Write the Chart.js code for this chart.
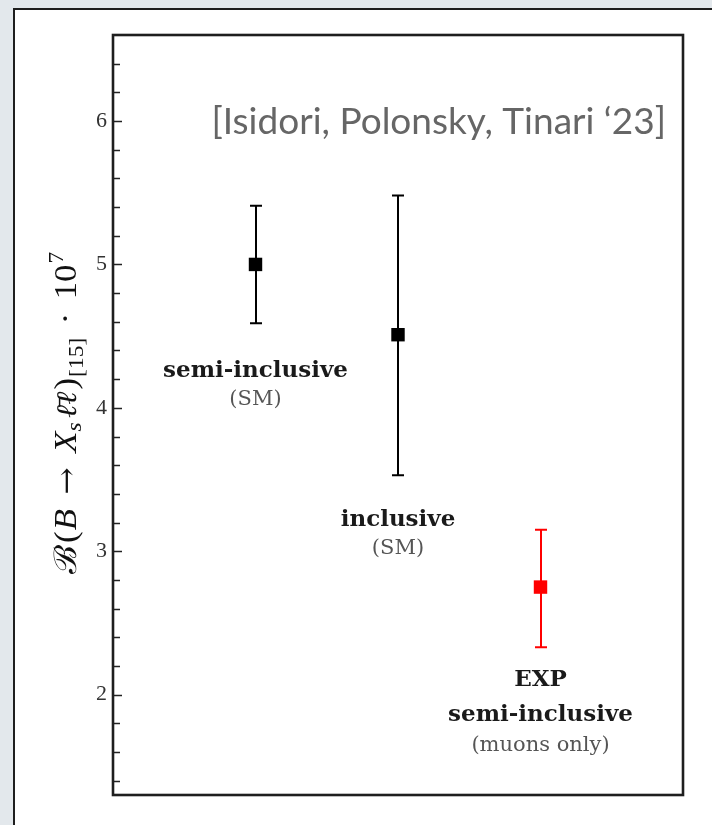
<!DOCTYPE html>
<html>
<head>
<meta charset="utf-8">
<script src="https://cdn.jsdelivr.net/npm/chart.js@4.4.0/dist/chart.umd.min.js"></script>
<style>
html, body { margin: 0; padding: 0; background: #e3e8ec; width: 712px; height: 825px; overflow: hidden; }
#panel { position: absolute; left: 13px; top: 8px; width: 720px; height: 840px; background: #fff; border: 2px solid #1e1e1e; }
#wrap { position: absolute; left: 0; top: 0; width: 712px; height: 825px; }
</style>
</head>
<body>
<div id="panel"></div>
<div id="wrap"><canvas id="mycanvas" width="712" height="825"></canvas></div>
<script>
// values
var categories = ["semi-inclusive (SM)", "inclusive (SM)", "EXP semi-inclusive (muons only)"];
var xPos = [1, 2, 3];
var central = [5.00, 4.51, 2.75];
var upper = [5.41, 5.48, 3.15];
var lower = [4.59, 3.53, 2.33];
var colors = ["#000000", "#000000", "#ff0000"];
var yTickLabels = [2, 3, 4, 5, 6];
var citation = "[Isidori, Polonsky, Tinari \u201823]";
var labelLines = [
	[{text: "semi-inclusive", bold: true}, {text: "(SM)"}],
	[{text: "inclusive", bold: true}, {text: "(SM)"}],
	[{text: "EXP", bold: true}, {text: "semi-inclusive", bold: true}, {text: "(muons only)"}]
];

// where each text line sits, in y units
var labelYs = [[4.258, 4.056], [3.220, 3.017], [2.105, 1.861, 1.645]];

var boxAndTicks = {
	id: 'boxAndTicks',
	afterDraw: function(chart) {
		var ctx = chart.ctx, a = chart.chartArea, ys = chart.scales.y;
		ctx.save();
		ctx.strokeStyle = "#222";
		ctx.lineWidth = 1.6;
		ctx.beginPath();
		for (var k = 7; k <= 32; k++) {
			var v = k / 5;
			var py = Math.round(ys.getPixelForValue(v)) + 0.5;
			var len = (k % 5 === 0) ? 9 : 7;
			ctx.moveTo(a.left, py);
			ctx.lineTo(a.left + len, py);
		}
		ctx.stroke();
		ctx.lineWidth = 2.6;
		ctx.strokeStyle = "#1e1e1e";
		ctx.strokeRect(a.left, a.top, a.right - a.left, a.bottom - a.top);
		ctx.restore();
	}
};

var errorBars = {
	id: 'errorBars',
	beforeDatasetsDraw: function(chart) {
		var ctx = chart.ctx, xs = chart.scales.x, ys = chart.scales.y;
		ctx.save();
		ctx.lineWidth = 2;
		for (var i = 0; i < central.length; i++) {
			var px = Math.round(xs.getPixelForValue(xPos[i]));
			var top = ys.getPixelForValue(upper[i]);
			var bot = ys.getPixelForValue(lower[i]);
			ctx.strokeStyle = colors[i];
			ctx.beginPath();
			ctx.moveTo(px, top); ctx.lineTo(px, bot);
			ctx.moveTo(px - 6, top); ctx.lineTo(px + 6, top);
			ctx.moveTo(px - 6, bot); ctx.lineTo(px + 6, bot);
			ctx.stroke();
		}
		ctx.restore();
	}
};

var textLabels = {
	id: 'textLabels',
	afterDraw: function(chart) {
		var ctx = chart.ctx, xs = chart.scales.x, ys = chart.scales.y;
		ctx.save();
		ctx.textAlign = "center";
		ctx.textBaseline = "middle";
		for (var i = 0; i < labelLines.length; i++) {
			var px = xs.getPixelForValue(xPos[i]);
			for (var j = 0; j < labelLines[i].length; j++) {
				var ln = labelLines[i][j];
				ctx.font = ln.bold ? "bold 23px 'DejaVu Serif'" : "21px 'DejaVu Serif'";
				ctx.fillStyle = ln.bold ? "#1a1a1a" : "#555";
				ctx.fillText(ln.text, px, ys.getPixelForValue(labelYs[i][j]));
			}
		}
		// citation
		ctx.textAlign = "right";
		ctx.textBaseline = "alphabetic";
		ctx.font = "37px Lato";
		ctx.fillStyle = "#666";
		ctx.fillText(citation, chart.chartArea.right - 17, 134);

		// y axis title with sub/superscripts
		var runs = [
			{t: "\u212C", f: "31px 'DejaVu Serif'", dy: 0, gap: 2},
			{t: "(", f: "31px 'Liberation Serif'", dy: 0, gap: 1},
			{t: "B", f: "italic 31px 'Liberation Serif'", dy: 0, gap: 13},
			{t: "\u2192", f: "29px 'DejaVu Serif'", dy: 0, gap: 13},
			{t: "X", f: "italic 31px 'Liberation Serif'", dy: 0, gap: 0},
			{t: "s", f: "italic 21px 'Liberation Serif'", dy: 5, gap: 4},
			{t: "\u2113\u0304\u2113", f: "italic 28px 'DejaVu Serif'", dy: 0, gap: 2},
			{t: ")", f: "31px 'Liberation Serif'", dy: 0, gap: 1},
			{t: "[15]", f: "21px 'Liberation Serif'", dy: 7, gap: 12},
			{t: "\u00B7", f: "31px 'Liberation Serif'", dy: 0, gap: 12},
			{t: "10", f: "31px 'Liberation Serif'", dy: 0, gap: 1},
			{t: "7", f: "21px 'Liberation Serif'", dy: -13, gap: 0}
		];
		var total = 0;
		for (var r = 0; r < runs.length; r++) {
			ctx.font = runs[r].f;
			runs[r].w = ctx.measureText(runs[r].t).width;
			total += runs[r].w + runs[r].gap;
		}
		var stretch = Math.min(1.12, 327 / total);
		ctx.translate(76, 413);
		ctx.rotate(-Math.PI / 2);
		ctx.scale(stretch, 1);
		ctx.textAlign = "left";
		ctx.fillStyle = "#111";
		var cx = -total / 2;
		for (r = 0; r < runs.length; r++) {
			ctx.font = runs[r].f;
			ctx.fillText(runs[r].t, cx, runs[r].dy);
			cx += runs[r].w + runs[r].gap;
		}
		ctx.restore();
	}
};

var ctx = document.getElementById("mycanvas");

var chart = new Chart(ctx, {
	type: 'scatter',
	data: {
		labels: categories,
		datasets: [
			{
				label: "B -> Xs ll",
				data: xPos.map(function(x, i) { return {x: x, y: central[i]}; }),
				pointStyle: 'rect',
				pointRadius: 9.5,
				pointHoverRadius: 9.5,
				backgroundColor: colors,
				borderWidth: 0
			}
		]
	},
	options: {
		responsive: false,
		animation: false,
		events: [],
		layout: { padding: { left: 0, right: 29, top: 35, bottom: 30 } },
		plugins: { legend: { display: false }, tooltip: { enabled: false } },
		scales: {
			x: { type: 'linear', min: 0, max: 4, display: false },
			y: {
				type: 'linear', min: 1.3, max: 6.6,
				afterBuildTicks: function(scale) {
					scale.ticks = yTickLabels.map(function(v) { return {value: v}; });
				},
				afterFit: function(scale) { scale.width = 113; },
				grid: { display: false, drawTicks: false },
				border: { display: false },
				ticks: {
					autoSkip: false,
					padding: 6,
					color: "#333",
					font: { family: "'Liberation Serif'", size: 22 },
					callback: function(v) { return String(v); }
				}
			}
		}
	},
	plugins: [errorBars, boxAndTicks, textLabels]
});
</script>
</body>
</html>
